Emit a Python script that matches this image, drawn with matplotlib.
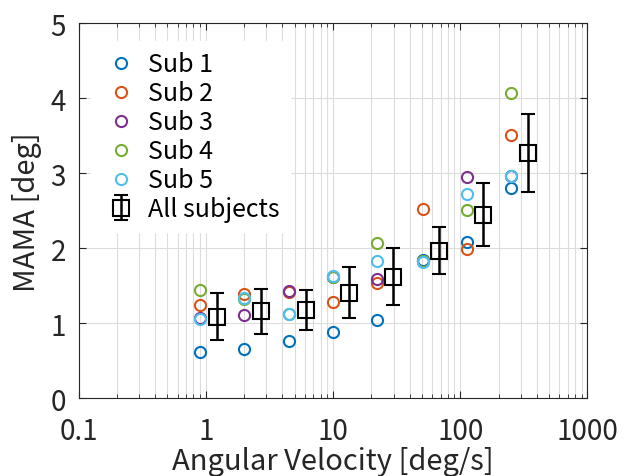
import numpy as np
import matplotlib
matplotlib.use("Agg")
import matplotlib.pyplot as plt
from matplotlib.ticker import LogLocator, NullFormatter, FixedLocator

plt.rcParams['font.family'] = ['Noto Sans CJK JP', 'DejaVu Sans']

# subject velocities and mean-marker velocities (deg/s)
sub_vel = [0.9, 2.0, 4.5, 10.0, 22.2, 51.0, 113.0, 251.0]
mean_vel = [1.22, 2.71, 6.1, 13.4, 29.6, 68.0, 151.0, 343.0]

sub1 = [0.62, 0.66, 0.77, 0.88, 1.05, 1.85, 2.09, 2.81]
sub2 = [1.25, 1.39, 1.42, 1.29, 1.54, 2.52, 1.99, 3.51]
sub3 = [1.07, 1.11, 1.43, 1.62, 1.59, 1.83, 2.95, 2.97]
sub4 = [1.45, 1.33, 1.13, 1.62, 2.07, 1.83, 2.51, 4.07]
sub5 = [1.06, 1.34, 1.12, 1.635, 1.83, 1.82, 2.72, 2.96]

mean_all = [1.09, 1.16, 1.18, 1.41, 1.62, 1.97, 2.45, 3.27]
err_all = [0.31, 0.30, 0.27, 0.34, 0.38, 0.31, 0.42, 0.52]

labels = ['Sub 1', 'Sub 2', 'Sub 3', 'Sub 4', 'Sub 5']
colors = ['#0072BD', '#D95319', '#7E2F8E', '#77AC30', '#4DBEEE']

fig = plt.figure(figsize=(6.28, 4.77), dpi=100)
ax = fig.add_axes([0.125, 0.163, 0.8105, 0.786])

for vals, lab, col in zip([sub1, sub2, sub3, sub4, sub5], labels, colors):
    ax.plot(sub_vel, vals, 'o', ms=8, mfc='none', mec=col, mew=1.5, label=lab)

ax.errorbar(mean_vel, mean_all, yerr=err_all, fmt='s', ms=11, mfc='none', mec='k',
            mew=1.5, ecolor='k', elinewidth=1.8, capsize=5, capthick=1.8,
            label='All subjects')

ax.set_xscale('log')
ax.set_xlim(0.1, 1000)
ax.set_ylim(0, 5)
ax.xaxis.set_major_locator(FixedLocator([0.1, 1, 10, 100, 1000]))
ax.set_xticklabels(['0.1', '1', '10', '100', '1000'])
ax.xaxis.set_minor_locator(LogLocator(base=10, subs=np.arange(2, 10)))
ax.xaxis.set_minor_formatter(NullFormatter())
ax.set_yticks([0, 1, 2, 3, 4, 5])

ax.grid(True, which='major', color='#dcdcdc', lw=0.8)
ax.grid(True, which='minor', axis='x', color='#dcdcdc', lw=0.8)
ax.set_axisbelow(True)

ax.tick_params(which='both', direction='in', top=True, right=True, labelsize=20,
               colors='#262626', labelcolor='#262626')
ax.tick_params(which='major', length=5)
ax.tick_params(which='minor', length=3)
ax.tick_params(axis='x', which='major', pad=13)
ax.tick_params(axis='y', which='major', pad=9)
for s in ax.spines.values():
    s.set_color('#262626')
    s.set_linewidth(0.8)

ax.set_xlabel('Angular Velocity [deg/s]', fontsize=21, color='#262626', labelpad=0)
ax.set_ylabel('MAMA [deg]', fontsize=21, color='#262626', labelpad=6)

leg = ax.legend(loc='upper left', bbox_to_anchor=(0.0, 0.985), fontsize=18,
                frameon=True, fancybox=False, edgecolor='white', framealpha=1,
                handletextpad=0.3, labelspacing=0.12, borderaxespad=0.5,
                handlelength=1.6)

fig.savefig('out.png', dpi=100)
